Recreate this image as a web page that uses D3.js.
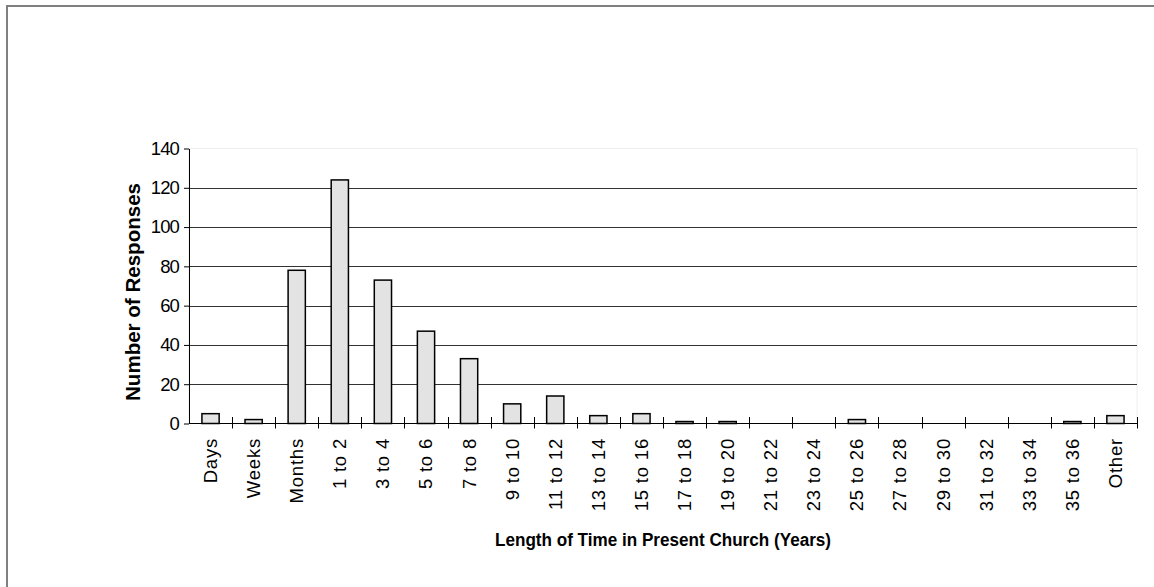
<!DOCTYPE html>
<html>
<head>
<meta charset="utf-8">
<script src="https://cdn.jsdelivr.net/npm/d3@7"></script>
<style>
  html, body { margin: 0; padding: 0; background: #fff; }
  svg { display: block; }
  text { font-family: "Liberation Sans", Arial, sans-serif; fill: #000; }
</style>
</head>
<body>
<script>
// Length of time respondents have attended their present church
const categories = ["Days", "Weeks", "Months", "1 to 2", "3 to 4", "5 to 6", "7 to 8",
  "9 to 10", "11 to 12", "13 to 14", "15 to 16", "17 to 18", "19 to 20", "21 to 22",
  "23 to 24", "25 to 26", "27 to 28", "29 to 30", "31 to 32", "33 to 34", "35 to 36", "Other"];
const responses = [5, 2, 78, 124, 73, 47, 33, 10, 14, 4, 5, 1, 1, 0, 0, 2, 0, 0, 0, 0, 1, 4];
const yTicks = [0, 20, 40, 60, 80, 100, 120, 140];
const xTitle = "Length of Time in Present Church (Years)";
const yTitle = "Number of Responses";

const W = 1154, H = 587;
const plot = { left: 189, right: 1137, top: 148.5, bottom: 423.5 };

const svg = d3.select("body").append("svg")
  .attr("width", W).attr("height", H);

// outer frame
svg.append("rect")
  .attr("x", 7).attr("y", 6)
  .attr("width", W + 20).attr("height", H + 20)
  .attr("fill", "#fff")
  .attr("stroke", "#808080").attr("stroke-width", 2);

const x = d3.scaleBand().domain(categories).range([plot.left, plot.right]).padding(0);
const y = d3.scaleLinear().domain([0, 140]).range([plot.bottom, plot.top]);

// plot area outline (faint)
svg.append("rect")
  .attr("x", plot.left).attr("y", y(140))
  .attr("width", plot.right - plot.left).attr("height", y(0) - y(140))
  .attr("fill", "none").attr("stroke", "#eeeeee").attr("stroke-width", 1);

// horizontal gridlines
svg.append("g").selectAll("line")
  .data(yTicks.filter(d => d > 0 && d < 140))
  .join("line")
  .attr("x1", plot.left).attr("x2", plot.right)
  .attr("y1", d => Math.round(y(d)) + 0.5).attr("y2", d => Math.round(y(d)) + 0.5)
  .attr("stroke", "#333").attr("stroke-width", 1);

// y axis
const yAxis = svg.append("g")
  .attr("transform", `translate(${plot.left},0)`)
  .call(d3.axisLeft(y).tickValues(yTicks).tickSize(5).tickPadding(5).tickSizeOuter(0));
yAxis.select(".domain").attr("stroke", "#000");
yAxis.selectAll(".tick line").attr("stroke", "#000");
yAxis.selectAll(".tick text")
  .attr("font-size", 18.5).attr("letter-spacing", "-0.9px")
  .attr("font-family", "'Liberation Sans', Arial, sans-serif")
  .attr("fill", "#000");

// bars
const barW = x.bandwidth() * 0.4;
svg.append("g").selectAll("rect")
  .data(categories.map((c, i) => ({ c, v: responses[i] })).filter(d => d.v > 0))
  .join("rect")
  .attr("x", d => x(d.c) + (x.bandwidth() - barW) / 2)
  .attr("y", d => y(d.v))
  .attr("width", barW)
  .attr("height", d => y(0) - y(d.v))
  .attr("fill", "#e3e3e3")
  .attr("stroke", "#000").attr("stroke-width", 1.5);

// category axis line with cross tick marks at band boundaries
const xAxis = svg.append("g");
xAxis.append("line")
  .attr("x1", plot.left).attr("x2", plot.right)
  .attr("y1", y(0)).attr("y2", y(0))
  .attr("stroke", "#000").attr("stroke-width", 1);
const boundaries = categories.slice(1).map(c => x(c)).concat([x.range()[1]]);
xAxis.selectAll("line.tick")
  .data(boundaries)
  .join("line").attr("class", "tick")
  .attr("x1", d => Math.round(d) + 0.5).attr("x2", d => Math.round(d) + 0.5)
  .attr("y1", y(0) - 6.5).attr("y2", y(0) + 5)
  .attr("stroke", "#000").attr("stroke-width", 1);

// rotated category labels
xAxis.selectAll("text")
  .data(categories)
  .join("text")
  .attr("transform", d => `translate(${x(d) + x.bandwidth() / 2},${y(0) + 14.5}) rotate(-90)`)
  .attr("text-anchor", "end")
  .attr("dy", "0.35em")
  .attr("font-size", 18.5)
  .attr("letter-spacing", "0.8px")
  .text(d => d);

// axis titles
svg.append("text")
  .attr("x", (plot.left + plot.right) / 2).attr("y", 546)
  .attr("text-anchor", "middle")
  .attr("font-size", 18).attr("font-weight", "bold")
  .attr("textLength", 336).attr("lengthAdjust", "spacingAndGlyphs")
  .text(xTitle);

svg.append("text")
  .attr("transform", `translate(140,292) rotate(-90)`)
  .attr("text-anchor", "middle")
  .attr("font-size", 20).attr("font-weight", "bold")
  .attr("textLength", 218).attr("lengthAdjust", "spacingAndGlyphs")
  .text(yTitle);
</script>
</body>
</html>
